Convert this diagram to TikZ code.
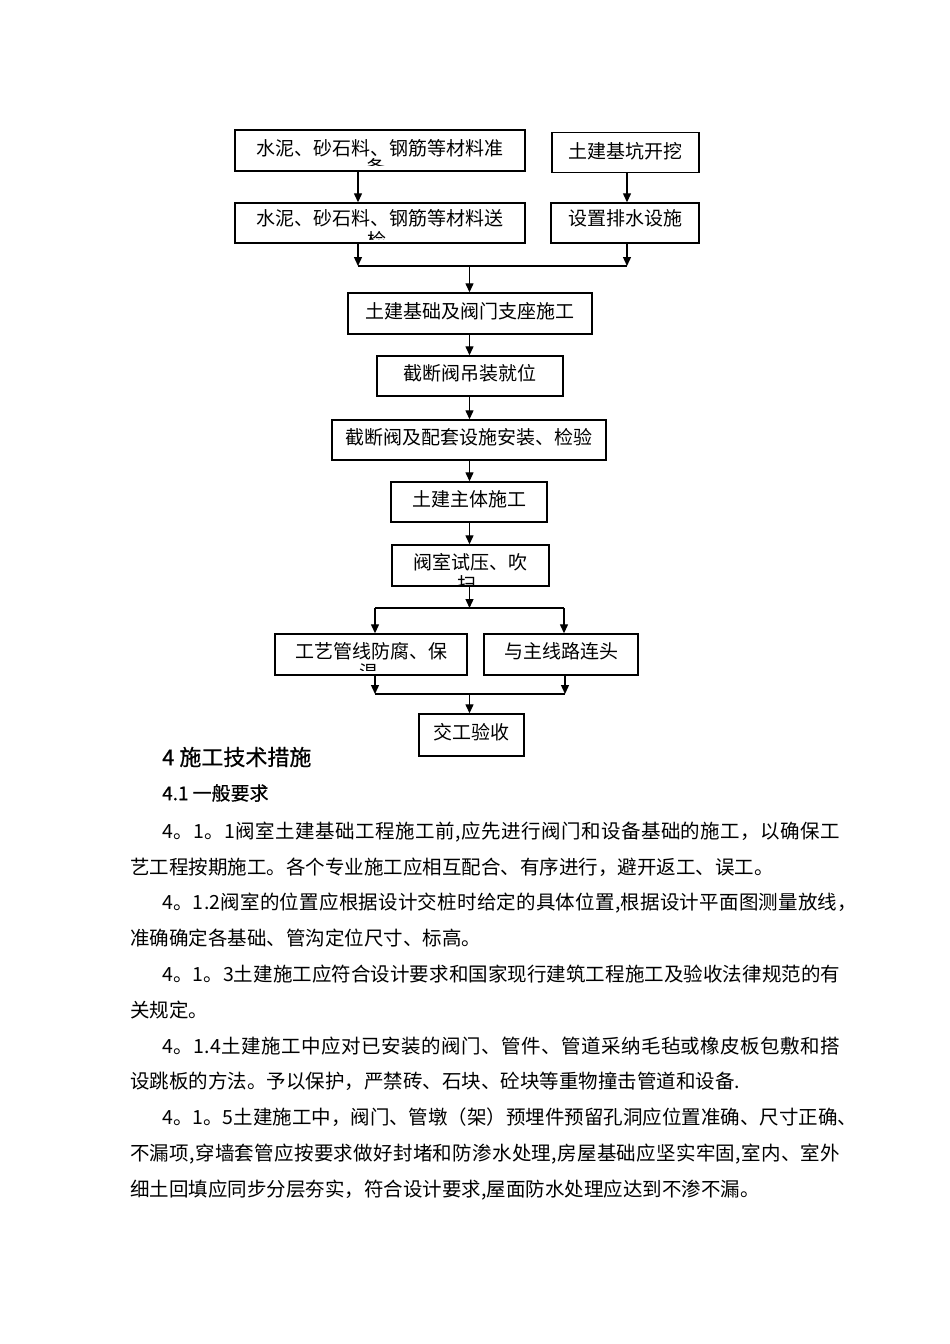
\documentclass[tikz,border=0pt]{standalone}
\usepackage{fontspec}
\usetikzlibrary{arrows.meta}
\newfontfamily\cjk{Noto Sans CJK SC}
\newfontfamily\cjkhead[FakeBold=0.6]{Noto Sans CJK SC}
\tikzset{
  box/.style={draw, line width=1.4pt, inner sep=0pt, text height=16.4pt, text depth=2.6pt,
    font=\cjk\fontsize{19pt}{22pt}\selectfont},
  wrapchar/.style={inner sep=0pt, font=\cjk\fontsize{19pt}{22pt}\selectfont},
  arr/.style={line width=1.3pt, -{Triangle[length=9pt,width=8pt]}},
  ln/.style={line width=1.3pt},
  para/.style={anchor=west, inner sep=0pt, text height=16.8pt, text depth=2.4pt,
    font=\cjk\fontsize{19.5pt}{22pt}\selectfont},
  headA/.style={anchor=west, inner sep=0pt, font=\cjkhead\fontsize{22pt}{26pt}\selectfont},
  headB/.style={anchor=west, inner sep=0pt, font=\cjkhead\fontsize{19pt}{23pt}\selectfont}
}
% justified line: glue between every pair of characters, stretched to width #1
\def\jline#1#2{\makebox[#1][s]{\jfirst#2\relax}}
\def\jfirst#1{#1\jrest}
\def\jrest#1{\ifx\relax#1\else\hskip 0pt plus 1pt minus 1pt #1\expandafter\jrest\fi}
\begin{document}
\begin{tikzpicture}[x=1pt,y=-1pt]
\useasboundingbox[fill=white] (0,0) rectangle (950,1344);

% ---------- flowchart boxes ----------
\node[box, minimum width=290pt, minimum height=41pt] (b1) at (380,150.5) {\raisebox{2pt}{水泥、砂石料、钢筋等材料准}};
\node[box, minimum width=147pt, minimum height=40pt] (b2) at (625.5,152.5) {\raisebox{1pt}{土建基坑开挖}};
\node[box, minimum width=290pt, minimum height=40pt] (b3) at (380,223) {\raisebox{4pt}{水泥、砂石料、钢筋等材料送}};
\node[box, minimum width=148pt, minimum height=40pt] (b4) at (625,223) {\raisebox{4pt}{设置排水设施}};
\node[box, minimum width=244pt, minimum height=41pt] (b5) at (470,313.5) {\raisebox{2pt}{土建基础及阀门支座施工}};
\node[box, minimum width=186pt, minimum height=40pt] (b6) at (470,376) {\raisebox{2pt}{截断阀吊装就位}};
\node[box, minimum width=274pt, minimum height=40pt] (b7) at (469,440) {\raisebox{2pt}{截断阀及配套设施安装、检验}};
\node[box, minimum width=156pt, minimum height=40pt] (b8) at (469,502) {\raisebox{2pt}{土建主体施工}};
\node[box, minimum width=157pt, minimum height=41pt] (b9) at (470.5,565.5) {\raisebox{3pt}{阀室试压、吹}};
\node[box, minimum width=192pt, minimum height=41pt] (b10) at (371,654.5) {\raisebox{3pt}{工艺管线防腐、保}};
\node[box, minimum width=154pt, minimum height=41pt] (b11) at (561,654.5) {\raisebox{3pt}{与主线路连头}};
\node[box, minimum width=105pt, minimum height=42pt] (b12) at (471.5,735) {\raisebox{2pt}{交工验收}};

% ---------- clipped second-line characters ----------
\begin{scope}
  \clip (236,140) rectangle (524,165);
  \node[wrapchar] (w1) at (376,167) {备};
\end{scope}
\begin{scope}
  \clip (236,225) rectangle (524,239);
  \node[wrapchar] (w3) at (377,240.5) {检};
\end{scope}
\begin{scope}
  \clip (393,570) rectangle (548,585);
  \node[wrapchar] (w9) at (467,584.5) {扫};
\end{scope}
\begin{scope}
  \clip (276,660) rectangle (466,670.5);
  \node[wrapchar] (w10) at (369,672) {温};
\end{scope}

% ---------- junction coordinates ----------
\coordinate (xL) at (358,0);
\coordinate (j1L) at (358,266);
\coordinate (j1R) at (627,266);
\coordinate (j1M) at (469.5,266);
\coordinate (j2M) at (469.5,608);
\coordinate (j2L) at (375,608);
\coordinate (j2R) at (564,608);
\coordinate (j3L) at (375,694);
\coordinate (j3R) at (565,694);
\coordinate (j3M) at (469.5,694);

% ---------- connectors ----------
\draw[arr] (b1.south -| xL) -- (b3.north -| xL);
\draw[arr] (b2.south -| j1R) -- (b4.north -| j1R);
\draw[arr] (b3.south -| xL) -- (j1L);
\draw[arr] (b4.south -| j1R) -- (j1R);
\draw[ln] (j1L) -- (j1R);
\draw[arr] (j1M) -- (b5.north -| j1M);
\draw[arr] (b5.south -| j1M) -- (b6.north -| j1M);
\draw[arr] (b6.south -| j1M) -- (b7.north -| j1M);
\draw[arr] (b7.south -| j1M) -- (b8.north -| j1M);
\draw[arr] (b8.south -| j1M) -- (b9.north -| j1M);
\draw[arr] (b9.south -| j2M) -- (j2M);
\draw[ln] (j2L) -- (j2R);
\draw[arr] (j2L) -- (b10.north -| j2L);
\draw[arr] (j2R) -- (b11.north -| j2R);
\draw[arr] (b10.south -| j3L) -- (j3L);
\draw[arr] (b11.south -| j3R) -- (j3R);
\draw[ln] (j3L) -- (j3R);
\draw[arr] (j3M) -- (b12.north -| j3M);

% ---------- text ----------
\node[headA] (h1) at (162,757) {4\hspace{5pt}施工技术措施};
\node[headB] (h2) at (162,793) {4.1\hspace{4pt}一般要求};

\node[para] (p1) at (162,831) {\jline{678pt}{4。1。1阀室土建基础工程施工前,应先进行阀门和设备基础的施工，以确保工}};
\node[para] (p2) at (130,866.8) {艺工程按期施工。各个专业施工应相互配合、有序进行，避开返工、误工。};
\node[para] (p3) at (162,902.6) {\jline{695pt}{4。1.2阀室的位置应根据设计交桩时给定的具体位置,根据设计平面图测量放线，}};
\node[para] (p4) at (130,938.4) {准确确定各基础、管沟定位尺寸、标高。};
\node[para] (p5) at (162,974.2) {\jline{678pt}{4。1。3土建施工应符合设计要求和国家现行建筑工程施工及验收法律规范的有}};
\node[para] (p6) at (130,1010) {关规定。};
\node[para] (p7) at (162,1045.8) {\jline{678pt}{4。1.4土建施工中应对已安装的阀门、管件、管道采纳毛毡或橡皮板包敷和搭}};
\node[para] (p8) at (130,1081.6) {设跳板的方法。予以保护，严禁砖、石块、砼块等重物撞击管道和设备.};
\node[para] (p9) at (162,1117.4) {\jline{695pt}{4。1。5土建施工中，阀门、管墩（架）预埋件预留孔洞应位置准确、尺寸正确、}};
\node[para] (p10) at (130,1153.2) {\jline{710pt}{不漏项,穿墙套管应按要求做好封堵和防渗水处理,房屋基础应坚实牢固,室内、室外}};
\node[para] (p11) at (130,1189) {细土回填应同步分层夯实，符合设计要求,屋面防水处理应达到不渗不漏。};
\end{tikzpicture}
\end{document}
